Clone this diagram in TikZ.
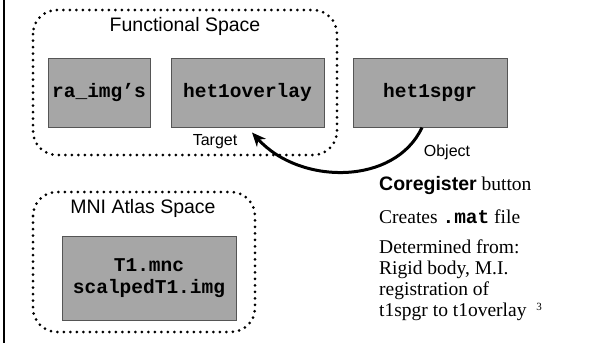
\documentclass[tikz,border=0pt]{standalone}
\usepackage{fontspec}
\setmainfont{Liberation Serif}
\setsansfont{Liberation Sans}
\setmonofont{Liberation Mono}
\usetikzlibrary{arrows.meta}
\definecolor{filegray}{RGB}{166,166,166}
\definecolor{edgegray}{RGB}{85,85,85}

\begin{document}
\begin{tikzpicture}
  [x=1pt,y=-1pt,
   file/.style={rectangle,fill=filegray,draw=edgegray,line width=1pt,inner sep=0pt,
     align=center,font=\fontsize{19.5}{22}\selectfont\ttfamily\bfseries},
   region/.style={draw,rounded corners=24pt,line width=3pt,line cap=round,
     dash pattern=on 0pt off 6.5pt},
   title/.style={font=\fontsize{19.5}{22}\selectfont\sffamily},
   tag/.style={font=\fontsize{16}{18}\selectfont\sffamily},
   note/.style={anchor=base west,inner sep=0pt,font=\fontsize{19.5}{23}\selectfont}]
  \useasboundingbox (0,0) rectangle (589,343);
  \draw[line width=2pt] (4,0) -- (4,343);

  % functional space
  \draw[region] (33,10) rectangle (337,155);
  \node[title] (func) at (185,26) {Functional Space};
  \node[file,minimum width=102pt,minimum height=69pt] (raimg) at (99,92.5) {ra\_img’s};
  \node[file,minimum width=153pt,minimum height=69pt] (overlay) at (247.5,92.5) {het1overlay};
  \node[file,minimum width=154pt,minimum height=69pt] (spgr) at (430,92.5) {het1spgr};
  \node[tag] (target) at (215,142) {Target};
  \node[tag] (object) at (447,152) {Object};

  % atlas space
  \draw[region] (33,192) rectangle (255,332);
  \node[title] (mni) at (143,208) {MNI Atlas Space};
  \node[file,minimum width=174pt,minimum height=84pt] (atlas) at (149,278) {T1.mnc\\scalpedT1.img};

  \draw[line width=3pt,-{Stealth[length=14pt,width=12pt]}]
    ([xshift=-8pt]spgr.south) .. controls +(-27,58) and +(48,53) .. ([xshift=4.5pt,yshift=-5pt]overlay.south);

  % notes
  \node[note] (cmd) at (379,190) {{\sffamily\bfseries Coregister} button};
  \node[note] (mat) at (379,223) {Creates {\ttfamily\bfseries .mat} file};
  \node[note] (how1) at (379,253) {Determined from:};
  \node[note] (how2) at (379,274) {Rigid body, M.I.};
  \node[note] (how3) at (379,295) {registration of};
  \node[note] (how4) at (379,316) {t1spgr to t1overlay\ \ \raisebox{6pt}{\fontsize{11}{11}\selectfont 3}};
\end{tikzpicture}
\end{document}
